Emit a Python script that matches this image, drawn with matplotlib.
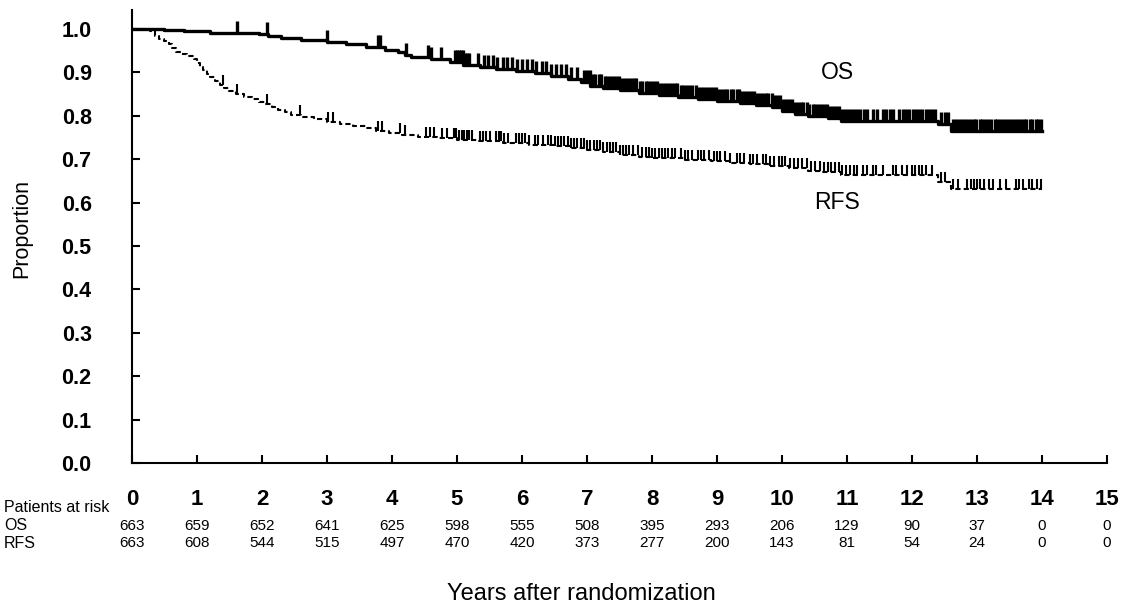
import numpy as np
import matplotlib.pyplot as plt
from matplotlib.markers import TICKUP

plt.rcParams['font.family'] = ['Liberation Sans', 'DejaVu Sans']

# Kaplan-Meier step curves (time in years, proportion)
os_time = [0, 0.5, 0.8, 1.2, 1.95, 2.1, 2.3, 2.6, 3.0, 3.3, 3.6, 3.9, 4.1, 4.2, 4.3,
           4.6, 4.9, 5.1, 5.35, 5.6, 5.9, 6.2, 6.45, 6.7, 6.9, 7.05, 7.25, 7.5, 7.8,
           8.1, 8.4, 8.7, 9.0, 9.35, 9.6, 9.85, 10.0, 10.2, 10.4, 10.7, 10.9, 12.4,
           12.6, 14.0]
os_surv = [1.0, 0.998, 0.996, 0.992, 0.989, 0.985, 0.979, 0.975, 0.970, 0.965, 0.959,
           0.953, 0.948, 0.940, 0.936, 0.931, 0.925, 0.918, 0.912, 0.908, 0.903, 0.898,
           0.891, 0.885, 0.879, 0.870, 0.865, 0.860, 0.853, 0.848, 0.843, 0.838, 0.835,
           0.830, 0.826, 0.820, 0.812, 0.805, 0.800, 0.796, 0.789, 0.782, 0.766, 0.766]

rfs_time = [0, 0.28, 0.35, 0.42, 0.5, 0.57, 0.62, 0.67, 0.75, 0.85, 0.95, 1.0, 1.05,
            1.1, 1.15, 1.2, 1.27, 1.35, 1.42, 1.5, 1.6, 1.72, 1.85, 1.95, 2.05, 2.15,
            2.25, 2.35, 2.45, 2.6, 2.8, 3.0, 3.2, 3.4, 3.6, 3.75, 3.95, 4.15, 4.4, 4.7,
            5.0, 5.3, 5.7, 6.1, 6.5, 6.75, 7.0, 7.25, 7.5, 7.8, 8.0, 8.5, 8.9, 9.2, 9.5,
            9.8, 10.1, 10.4, 10.6, 10.9, 12.4, 12.6, 14.0]
rfs_surv = [1.0, 0.995, 0.985, 0.977, 0.972, 0.966, 0.956, 0.948, 0.943, 0.937, 0.930,
            0.922, 0.913, 0.905, 0.897, 0.889, 0.880, 0.871, 0.864, 0.857, 0.850, 0.844,
            0.838, 0.833, 0.827, 0.820, 0.814, 0.808, 0.802, 0.797, 0.792, 0.787, 0.782,
            0.777, 0.772, 0.766, 0.761, 0.756, 0.752, 0.748, 0.745, 0.741, 0.738, 0.734,
            0.730, 0.726, 0.721, 0.716, 0.711, 0.706, 0.702, 0.699, 0.696, 0.692, 0.688,
            0.684, 0.679, 0.674, 0.671, 0.663, 0.647, 0.631, 0.631]

# censoring times
os_censor = [1.62, 2.07, 3.0, 3.78, 3.82, 4.22, 4.56, 4.6, 4.75,
             4.97, 5.0, 5.03, 5.06, 5.09, 5.12, 5.15, 5.18, 5.32,
             5.42, 5.48, 5.55, 5.62, 5.7, 5.77, 5.85, 5.92, 6.0, 6.08, 6.15, 6.22, 6.3,
             6.37, 6.45, 6.52, 6.6, 6.68, 6.76, 6.84,
             6.95, 7.0, 7.04, 7.09, 7.13, 7.18, 7.22, 7.27, 7.31, 7.36, 7.4, 7.45, 7.49,
             7.54, 7.58, 7.63, 7.67, 7.72, 7.76, 7.81,
             7.85, 7.9, 7.94, 7.99, 8.03, 8.08, 8.12, 8.17, 8.21, 8.26, 8.3, 8.35, 8.39,
             8.44, 8.48, 8.53, 8.57, 8.62, 8.67, 8.71, 8.76, 8.8, 8.85, 8.89, 8.94, 8.98,
             9.03, 9.07, 9.12, 9.16, 9.21, 9.25, 9.3, 9.34, 9.39, 9.43, 9.48, 9.52, 9.57,
             9.61, 9.66, 9.7, 9.75, 9.79, 9.84, 9.88, 9.93, 9.97, 10.02, 10.06, 10.11,
             10.15, 10.2, 10.24, 10.29, 10.33, 10.38, 10.42, 10.47, 10.51, 10.56, 10.6,
             10.65, 10.69, 10.74, 10.78, 10.83, 10.87,
             10.92, 10.97, 11.01, 11.06, 11.1, 11.15, 11.2, 11.26, 11.31, 11.4, 11.46,
             11.55, 11.6, 11.66, 11.71, 11.8, 11.86, 11.91, 11.96, 12.01, 12.06, 12.11,
             12.16, 12.21, 12.26, 12.31, 12.36, 12.45, 12.5, 12.55,
             12.63, 12.68, 12.72, 12.77, 12.81, 12.86, 12.9, 12.95, 12.99, 13.04, 13.08,
             13.13, 13.17, 13.22, 13.27, 13.31, 13.36, 13.4, 13.45, 13.49, 13.54, 13.58,
             13.63, 13.67, 13.72, 13.76, 13.81, 13.85, 13.9, 13.94, 13.99]

rfs_censor = [1.40, 1.61, 2.07, 2.58, 3.02, 3.1, 3.79, 3.84, 4.12, 4.2, 4.53, 4.58, 4.64,
              4.77, 4.85, 4.95, 4.99, 5.03, 5.07, 5.11, 5.15, 5.19, 5.23,
              5.35, 5.4, 5.45, 5.5, 5.6, 5.64, 5.68, 5.73, 5.78, 5.9, 5.95, 6.0, 6.05,
              6.1, 6.2, 6.24, 6.32, 6.4, 6.45, 6.5, 6.55, 6.6, 6.65, 6.7, 6.75, 6.8,
              6.85, 6.9, 6.95, 7.0, 7.05, 7.1, 7.15, 7.2, 7.25, 7.3, 7.35, 7.4, 7.45,
              7.5, 7.55, 7.6, 7.65, 7.7, 7.78, 7.85, 7.9, 7.95, 8.0, 8.05, 8.1, 8.15,
              8.2, 8.25, 8.3, 8.35, 8.45, 8.5, 8.55, 8.62, 8.7, 8.75, 8.8, 8.88, 8.95,
              9.0, 9.05, 9.12, 9.2, 9.3, 9.35, 9.42, 9.5, 9.55, 9.62, 9.7, 9.76, 9.82,
              9.88, 9.95, 10.0, 10.05, 10.12, 10.18, 10.25, 10.3, 10.38, 10.45, 10.5,
              10.58, 10.65, 10.7, 10.76, 10.82, 10.88, 10.93, 10.98, 11.05, 11.1, 11.15,
              11.25, 11.3, 11.4, 11.45, 11.55, 11.7, 11.75, 11.85, 11.92, 12.0, 12.05,
              12.1, 12.15, 12.22, 12.3, 12.45, 12.5, 12.63, 12.7, 12.85, 12.9, 12.95,
              13.0, 13.05, 13.1, 13.18, 13.25, 13.35, 13.45, 13.6, 13.65, 13.7, 13.8,
              13.85, 13.92, 13.98]

# patients at risk
risk_years = list(range(16))
os_risk = [663, 659, 652, 641, 625, 598, 555, 508, 395, 293, 206, 129, 90, 37, 0, 0]
rfs_risk = [663, 608, 544, 515, 497, 470, 420, 373, 277, 200, 143, 81, 54, 24, 0, 0]


def step_at(t_knots, s_knots, times):
    idx = np.searchsorted(t_knots, times, side='right') - 1
    return np.asarray(s_knots)[idx]


fig = plt.figure(figsize=(11.27, 6.07), dpi=100)
ax = fig.add_axes([0.1171, 0.2372, 0.8652, 0.7463])

ax.plot(os_time, os_surv, drawstyle='steps-post', color='black', lw=2.4)
ax.plot(os_censor, step_at(os_time, os_surv, os_censor), ls='none',
        marker=TICKUP, ms=8.5, mew=2.4, color='black')

ax.plot(rfs_time, rfs_surv, drawstyle='steps-post', color='black', lw=1.5,
        linestyle=(0, (2.5, 1.5)))
ax.plot(rfs_censor, step_at(rfs_time, rfs_surv, rfs_censor), ls='none',
        marker=TICKUP, ms=7, mew=1.5, color='black')

ax.set_xlim(0, 15)
ax.set_ylim(0, 1.044)
ax.spines['top'].set_visible(False)
ax.spines['right'].set_visible(False)
ax.spines['left'].set_linewidth(1.5)
ax.spines['bottom'].set_linewidth(1.5)

ax.set_xticks(risk_years)
ax.set_xticklabels([str(y) for y in risk_years], fontsize=16, fontweight='bold')
ax.set_yticks(np.arange(0, 11) / 10)
ax.set_yticklabels([f'{v / 10:.1f}' for v in range(11)], fontsize=15.5, fontweight='bold')
ax.tick_params(axis='x', direction='in', length=6, width=1.5, pad=19)
ax.tick_params(axis='y', direction='in', length=6, width=1.5, pad=29)

ax.text(10.85, 0.901, 'OS', fontsize=16.5, ha='center', va='center')
ax.text(10.85, 0.601, 'RFS', fontsize=16.5, ha='center', va='center')

# risk table
tr = ax.get_xaxis_transform()
fig.text(0.0035, 1 - 507 / 607, 'Patients at risk', fontsize=11.5, va='center')
fig.text(0.0035, 1 - 526 / 607, 'OS', fontsize=11.5, va='center')
fig.text(0.0035, 1 - 543 / 607, 'RFS', fontsize=11.5, va='center')
for yr, o, r in zip(risk_years, os_risk, rfs_risk):
    ax.text(yr, -63 / 453, str(o), transform=tr, fontsize=11, ha='center', va='center')
    ax.text(yr, -80 / 453, str(r), transform=tr, fontsize=11, ha='center', va='center')

fig.text(0.516, 1 - 594 / 607, 'Years after randomization', fontsize=17,
         ha='center', va='center')
fig.text(0.0195, 0.624, 'Proportion', fontsize=15.5, rotation=90,
         ha='center', va='center')

fig.savefig('out.png', dpi=100)
